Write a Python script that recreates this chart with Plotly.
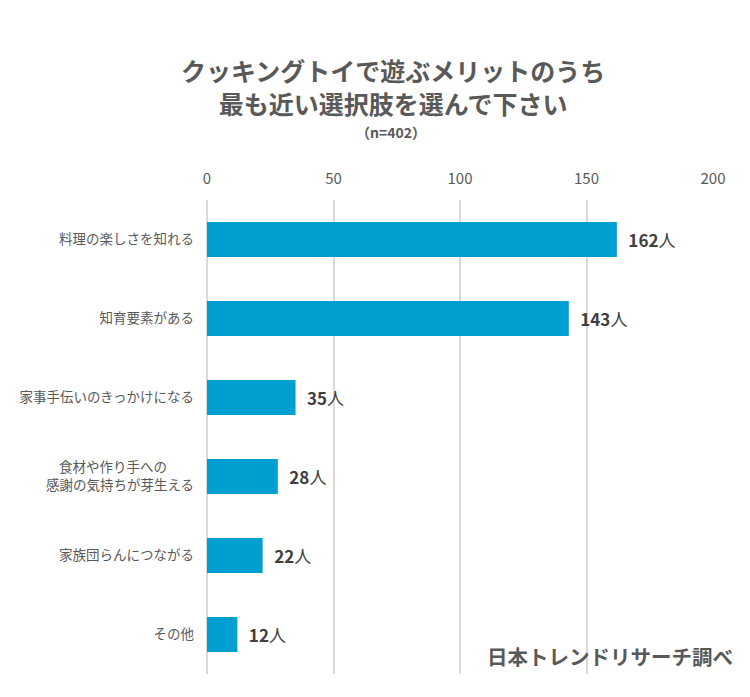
import plotly.graph_objects as go

categories = [
    "料理の楽しさを知れる",
    "知育要素がある",
    "家事手伝いのきっかけになる",
    "食材や作り手への\u3000\u3000<br>感謝の気持ちが芽生える",
    "家族団らんにつながる",
    "その他",
]
values = [162, 143, 35, 28, 22, 12]
x_ticks = [0, 50, 100, 150, 200]

FONT = "Noto Sans CJK JP"
GRAY = "#595959"

fig = go.Figure()
fig.add_trace(go.Bar(
    y=categories,
    x=values,
    orientation="h",
    marker=dict(color="#009FD2", line=dict(width=0)),
    width=0.44,
    text=values,
    texttemplate="\u2002<b>%{x}</b>人",
    textposition="outside",
    textfont=dict(family=FONT, size=17, color="#404040"),
    cliponaxis=False,
))

fig.update_layout(
    width=750,
    height=697,
    margin=dict(l=207, r=37, t=200, b=23),
    plot_bgcolor="white",
    paper_bgcolor="white",
    showlegend=False,
    font=dict(family=FONT, color=GRAY),
    xaxis=dict(
        side="top",
        range=[0, 200],
        tickvals=x_ticks,
        showgrid=True,
        gridcolor="#D9D9D9",
        gridwidth=2,
        zeroline=True,
        zerolinecolor="#D9D9D9",
        zerolinewidth=2,
        showline=False,
        ticks="",
        ticklabelstandoff=12,
        tickfont=dict(family=FONT, size=15, color=GRAY),
    ),
    yaxis=dict(
        autorange="reversed",
        showgrid=False,
        zeroline=False,
        showline=False,
        ticks="",
        ticklabelstandoff=12,
        tickfont=dict(family=FONT, size=13.5, color=GRAY),
    ),
    annotations=[
        dict(
            text="<b>クッキングトイで遊ぶメリットのうち<br>最も近い選択肢を選んで下さい</b>",
            xref="paper", yref="paper",
            x=(393 - 207) / 506, y=(673 - 86) / 474,
            xanchor="center", yanchor="middle",
            showarrow=False,
            font=dict(family=FONT, size=25, color=GRAY),
        ),
        dict(
            text="<b>（n=402）</b>",
            xref="paper", yref="paper",
            x=(391 - 207) / 506, y=(673 - 131) / 474,
            xanchor="center", yanchor="middle",
            showarrow=False,
            font=dict(family=FONT, size=14, color=GRAY),
        ),
        dict(
            text="<b>日本トレンドリサーチ調べ</b>",
            xref="paper", yref="paper",
            x=(735 - 207) / 506, y=(673 - 655) / 474,
            xanchor="right", yanchor="middle",
            showarrow=False,
            font=dict(family=FONT, size=20.5, color=GRAY),
        ),
    ],
)

fig.write_html(
    "out.html",
    config={"displayModeBar": False},
    post_script="document.body.style.margin='0';",
)
